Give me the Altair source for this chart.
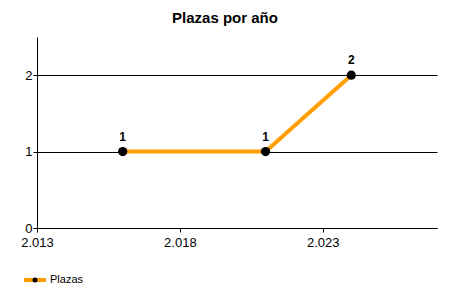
import altair as alt
import pandas as pd

years = [2016, 2021, 2024]
plazas = [1, 1, 2]
serie = ["Plazas", "Plazas", "Plazas"]
x_ticks = [2013, 2018, 2023]
y_ticks = [0, 1, 2]

df = pd.DataFrame({"anio": years, "plazas": plazas, "serie": serie, "serie_pt": serie})

FONT = "Liberation Sans"
ORANGE = "#FFA000"

x = alt.X("anio:Q", scale=alt.Scale(domain=[2013, 2027], nice=False, zero=False),
          axis=alt.Axis(values=x_ticks, title=None, grid=False,
                        labelExpr="replace(format(datum.value, ','), ',', '.')",
                        domainColor="black", tickColor="black", tickSize=4,
                        labelFont=FONT, labelFontSize=13, labelColor="black",
                        labelPadding=4, labelFlush=False))
y = alt.Y("plazas:Q", scale=alt.Scale(domain=[0, 2.5], nice=False),
          axis=alt.Axis(values=y_ticks, title=None, grid=True, gridColor="black",
                        gridOpacity=1, domainColor="black", tickColor="black", tickSize=4,
                        labelFont=FONT, labelFontSize=13, labelColor="black",
                        labelPadding=1))

base = alt.Chart(df)

line = base.mark_line(strokeWidth=4).encode(
    x=x, y=y,
    color=alt.Color("serie:N", scale=alt.Scale(range=[ORANGE]),
                    legend=alt.Legend(title=None, orient="none", legendX=-15, legendY=230,
                                      symbolType="stroke", symbolStrokeWidth=4,
                                      symbolSize=484, labelFont=FONT, labelFontSize=11,
                                      labelColor="black", labelOffset=2, padding=0)),
)

pts = base.mark_circle(size=85, opacity=1).encode(
    x=x, y=y,
    fill=alt.Fill("serie_pt:N", scale=alt.Scale(range=["black"]),
                  legend=alt.Legend(title=None, orient="none", legendX=-7, legendY=238,
                                    symbolType="circle", symbolSize=25,
                                    symbolFillColor="black", symbolStrokeWidth=0,
                                    labelExpr="''", padding=0)),
)

labels = base.mark_text(dy=-15, font=FONT, fontSize=12, fontWeight="bold", color="black").encode(
    x=x, y=y, text="plazas:Q"
)

chart = alt.layer(line, pts, labels).properties(
    width=400, height=191,
    title=alt.TitleParams("Plazas por año", font=FONT, fontSize=15, fontWeight="bold",
                          color="black", anchor="middle", dx=-12, offset=11),
    autosize=alt.AutoSizeParams(type="none"),
    padding={"left": 37, "top": 37, "right": 13, "bottom": 72},
).configure_view(stroke=None).configure_legend(symbolOffset=0)

chart.save("out.html", embed_options={"renderer": "svg", "actions": False})
